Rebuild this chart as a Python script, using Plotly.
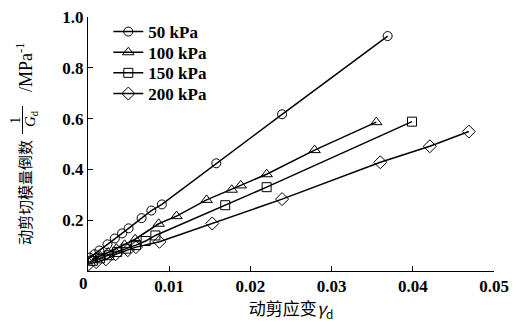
import plotly.graph_objects as go

# ---- data ----
series_names = ["50 kPa", "100 kPa", "150 kPa", "200 kPa"]
x_50 = [0.0002, 0.0008, 0.0014, 0.0024, 0.0033, 0.0042, 0.0050, 0.0066, 0.0078, 0.0091, 0.0158, 0.0239, 0.0369]
y_50 = [0.053, 0.066, 0.081, 0.105, 0.128, 0.148, 0.168, 0.208, 0.238, 0.262, 0.424, 0.617, 0.925]
x_100 = [0.0005, 0.0015, 0.0025, 0.0035, 0.0045, 0.0058, 0.0087, 0.0109, 0.0146, 0.0177, 0.0188, 0.0220, 0.0279, 0.0355]
y_100 = [0.045, 0.058, 0.073, 0.088, 0.103, 0.125, 0.186, 0.216, 0.280, 0.320, 0.337, 0.381, 0.476, 0.586]
x_150 = [0.0006, 0.0015, 0.0026, 0.0036, 0.0047, 0.0059, 0.0071, 0.0083, 0.0169, 0.0220, 0.0399]
y_150 = [0.040, 0.050, 0.062, 0.075, 0.088, 0.102, 0.118, 0.140, 0.259, 0.330, 0.588]
x_200 = [0.0001, 0.0010, 0.0022, 0.0034, 0.0049, 0.0059, 0.0088, 0.0153, 0.0239, 0.0360, 0.0421, 0.0469]
y_200 = [0.027, 0.035, 0.046, 0.066, 0.082, 0.094, 0.115, 0.187, 0.283, 0.428, 0.491, 0.549]
symbols = ["circle-open", "triangle-up-open", "square-open", "diamond-open"]
sizes = [9, 10, 9, 10]

x_ticks = [0, 0.01, 0.02, 0.03, 0.04, 0.05]
x_ticklabels = ["", "0.01", "0.02", "0.03", "0.04", "0.05"]
origin_label = "0"
y_ticks = [0.2, 0.4, 0.6, 0.8, 1.0]
y_ticklabels = ["0.2", "0.4", "0.6", "0.8", "1.0"]

# page body has an 8px default margin
OFF = 8
SW, SH = 523, 322                 # screen size
PL, PR, PT, PB = 88, 494, 17, 271  # plot area edges in screen pixels
W, H = SW - OFF, SH - OFF
L, T = PL - OFF, PT - OFF
R = W - (PR - OFF)
B = H - (PB - OFF)
pw, ph = PR - PL, PB - PT

def px(xp):
    return (xp - PL) / pw

def py(yp):
    return (PB - yp) / ph

FONT = "Liberation Serif, Times New Roman, Noto Sans CJK SC"
CJK = "Noto Sans CJK SC, Liberation Serif"

legend_ids = ["legend", "legend2", "legend3", "legend4"]
legend_rows = [32, 52.7, 73.3, 94]   # screen y of each legend row

fig = go.Figure()
for name, xs, ys, sym, sz, lg in zip(series_names, [x_50, x_100, x_150, x_200],
                                     [y_50, y_100, y_150, y_200], symbols, sizes, legend_ids):
    fig.add_trace(go.Scatter(
        x=xs, y=ys, name=name, mode="lines+markers", legend=lg,
        line=dict(color="black", width=1.5),
        marker=dict(symbol=sym, size=sz, color="black", line=dict(width=1)),
    ))

legend_style = dict(xanchor="left", yanchor="middle",
                    bgcolor="rgba(0,0,0,0)", borderwidth=0,
                    font=dict(family=FONT, size=17, color="black", weight="bold"),
                    itemwidth=30, tracegroupgap=0)
legends = {lg: dict(x=0.05, y=py(ry), **legend_style) for lg, ry in zip(legend_ids, legend_rows)}

fig.update_layout(
    width=W, height=H,
    margin=dict(l=L, r=R, t=T, b=B, autoexpand=False),
    paper_bgcolor="white", plot_bgcolor="white",
    font=dict(family=FONT, size=15, color="black"),
    showlegend=True,
    xaxis=dict(range=[0, 0.05], tickvals=x_ticks, ticktext=x_ticklabels,
               automargin=False, ticklabeloverflow="allow",
               showgrid=False, zeroline=False, showline=True, linecolor="black",
               linewidth=1, ticks="inside", ticklen=5, tickcolor="black",
               tickfont=dict(family=FONT, size=17, weight="bold"),
               title=dict(text="动剪应变<i>γ</i><sub>d</sub>",
                          font=dict(family=CJK, size=17), standoff=6)),
    yaxis=dict(range=[0, 1.0], tickvals=y_ticks, ticktext=y_ticklabels,
               automargin=False, ticklabeloverflow="allow",
               showgrid=False, zeroline=False, showline=True, linecolor="black",
               linewidth=1, ticks="inside", ticklen=5, tickcolor="black",
               tickfont=dict(family=FONT, size=17, weight="bold")),
    **legends,
)

# origin label at the corner
fig.add_annotation(xref="paper", yref="paper", x=px(83), y=py(283), text=origin_label,
                   showarrow=False, xanchor="center", yanchor="middle",
                   font=dict(family=FONT, size=17, weight="bold"))

# y-axis title pieces (rotated), including fraction 1/G_d
ann = [
    dict(text="动剪切模量倒数", x=px(24), y=py(193), font=dict(family=CJK, size=15)),
    dict(text="1", x=px(15), y=py(120), font=dict(family=FONT, size=15)),
    dict(text="<i>G</i><sub>d</sub>", x=px(31), y=py(119), font=dict(family=FONT, size=15)),
    dict(text="/MPa<sup>-1</sup>", x=px(25), y=py(67), font=dict(family=FONT, size=18)),
]
for a in ann:
    fig.add_annotation(xref="paper", yref="paper", showarrow=False, textangle=-90,
                       xanchor="center", yanchor="middle", **a)
fig.add_shape(type="line", xref="paper", yref="paper",
              x0=px(22.5), x1=px(22.5), y0=py(106), y1=py(134),
              line=dict(color="black", width=1))

fig.write_html("out.html")
